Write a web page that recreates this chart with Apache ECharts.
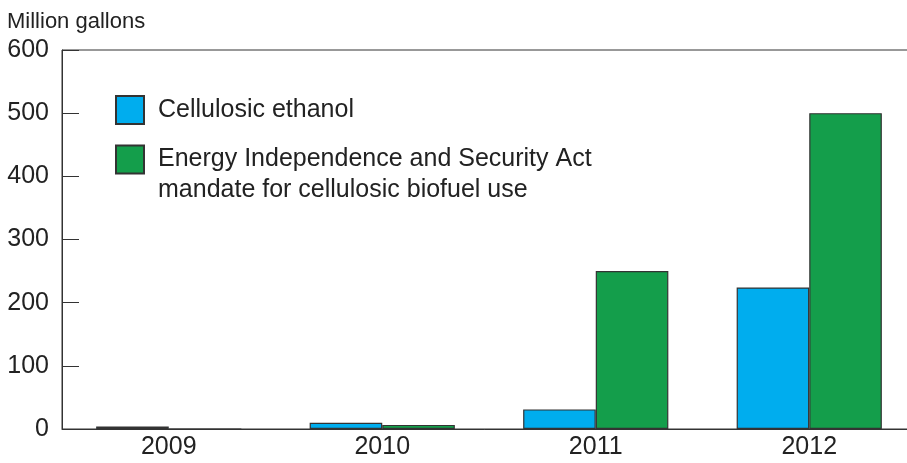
<!DOCTYPE html>
<html>
<head>
<meta charset="utf-8">
<script src="https://cdn.jsdelivr.net/npm/echarts@6/dist/echarts.min.js"></script>
<style>html,body{margin:0;padding:0;background:#fff}#c{width:907px;height:463px}</style>
</head>
<body>
<div id="c"></div>
<script>
var categories = ['2009', '2010', '2011', '2012'];
var ethanolName = 'Cellulosic ethanol';
var mandateName = 'Energy Independence and Security Act\nmandate for cellulosic biofuel use';
var ethanolValues = [4, 10, 31, 224];
var mandateValues = [0, 6.5, 250, 500];
var yTicks = [0, 100, 200, 300, 400, 500, 600];
var unitLabel = 'Million gallons';

var FONT = '"Liberation Sans", Arial, Helvetica, sans-serif';
var chart = echarts.init(document.getElementById('c'), null, {renderer: 'canvas'});
chart.setOption({
  animation: false,
  backgroundColor: '#fff',
  title: {
    text: unitLabel, left: 7, top: 11, padding: 0,
    textStyle: {fontFamily: FONT, fontSize: 22, fontWeight: 'normal', color: '#222'}
  },
  grid: {
    left: 62, width: 854, top: 50, bottom: 34,
    outerBoundsMode: 'none', containLabel: false,
    show: true, borderColor: '#333', borderWidth: 1, backgroundColor: 'transparent'
  },
  legend: [
    {
      data: [{name: ethanolName, icon: 'rect'}], left: 115, top: 95, padding: 0, orient: 'vertical',
      itemWidth: 28, itemHeight: 28, selectedMode: false,
      textStyle: {fontFamily: FONT, fontSize: 25, color: '#222', padding: [0, 0, 0, 9]}
    },
    {
      data: [{name: mandateName, icon: 'rect'}], left: 115, top: 113, padding: 0, orient: 'vertical',
      itemWidth: 28, itemHeight: 28, selectedMode: false,
      formatter: function (n) { return ' \n' + n; },
      textStyle: {fontFamily: FONT, fontSize: 25, color: '#222', lineHeight: 31, padding: [0, 0, 0, 9]}
    }
  ],
  xAxis: {
    type: 'category', data: categories,
    axisLine: {show: true, lineStyle: {color: '#333', width: 1}},
    axisTick: {show: false},
    axisLabel: {fontFamily: FONT, fontSize: 25, color: '#222', margin: 6}
  },
  yAxis: {
    type: 'value', min: 0, max: 600, interval: 100,
    axisLine: {show: true, lineStyle: {color: '#333', width: 1}},
    axisTick: {show: true, inside: true, length: 17, lineStyle: {color: '#333'}},
    splitLine: {show: false},
    axisLabel: {
      fontFamily: FONT, fontSize: 25, color: '#222', margin: 13,
      formatter: function (v) { return yTicks.indexOf(v) >= 0 ? String(v) : ''; }
    }
  },
  series: [
    {
      name: ethanolName, type: 'bar', data: ethanolValues,
      barGap: '0%', barCategoryGap: '32%',
      itemStyle: {color: '#00adee', borderColor: '#333', borderWidth: 1.2}
    },
    {
      name: mandateName, type: 'bar', data: mandateValues,
      barGap: '0%', barCategoryGap: '32%',
      itemStyle: {color: '#149e4b', borderColor: '#333', borderWidth: 1.2}
    }
  ]
});
</script>
</body>
</html>
